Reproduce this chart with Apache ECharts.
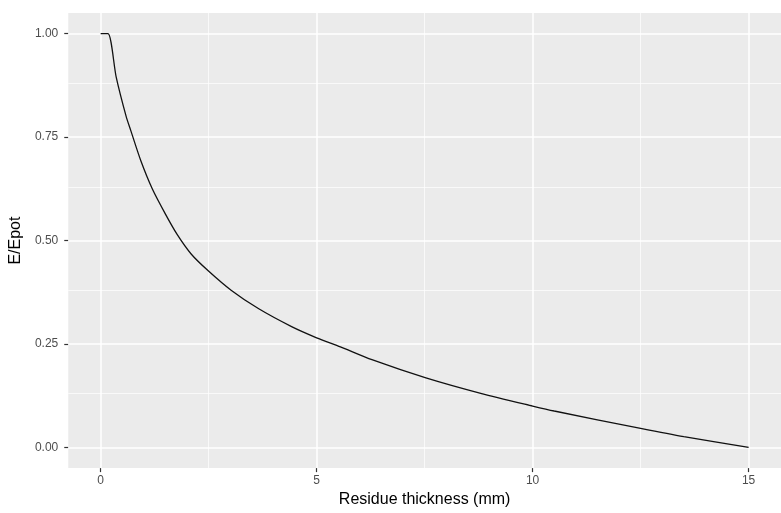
<!DOCTYPE html>
<html>
<head>
<meta charset="utf-8">
<script src="https://cdn.jsdelivr.net/npm/echarts@6/dist/echarts.min.js"></script>
<style>
  html, body { margin: 0; padding: 0; background: #fff; }
  #chart { width: 781px; height: 513px; }
</style>
</head>
<body>
<div id="chart"></div>
<script>
// curve
const thickness = [0, 0.17, 0.36, 0.59, 0.70, 0.93, 1.20, 1.50, 1.77, 2.10, 2.49, 3.02, 3.66, 4.42, 5.0, 5.55, 6.28, 7.53, 8.82, 10.0, 10.5, 12.5, 13.5, 15.0]
const ratio = [1, 1, 0.895, 0.80, 0.765, 0.693, 0.624, 0.564, 0.515, 0.467, 0.427, 0.38, 0.335, 0.292, 0.265, 0.243, 0.212, 0.168, 0.130, 0.100, 0.088, 0.046, 0.026, 0.0]

// ticks / grid lines
const xTicks = [0, 5, 10, 15]
const xMinor = [2.5, 7.5, 12.5]
const yTicks = [0, 0.25, 0.5, 0.75, 1]
const yMinor = [0.125, 0.375, 0.625, 0.875]

const chart = echarts.init(document.getElementById('chart'))

const gridLines = []
xMinor.forEach(v => gridLines.push({ xAxis: v, lineStyle: { width: 0.7 } }))
yMinor.forEach(v => gridLines.push({ yAxis: v, lineStyle: { width: 0.7 } }))
xTicks.forEach(v => gridLines.push({ xAxis: v, lineStyle: { width: 1.5 } }))
yTicks.forEach(v => gridLines.push({ yAxis: v, lineStyle: { width: 1.5 } }))

chart.setOption({
  animation: false,
  textStyle: { fontFamily: 'Liberation Sans, Arial, sans-serif' },
  grid: {
    left: 67,
    top: 13,
    width: 725,
    height: 456,
    show: true,
    backgroundColor: '#EBEBEB',
    borderWidth: 0
  },
  xAxis: {
    type: 'value',
    min: -0.75,
    max: 15.75,
    splitLine: { show: false },
    axisLine: { show: false, onZero: false },
    axisTick: {
      show: true,
      customValues: xTicks,
      length: 4,
      lineStyle: { color: '#333333', width: 1.2 }
    },
    axisLabel: {
      customValues: xTicks,
      color: '#4D4D4D',
      fontSize: 12,
      margin: 7
    },
    name: 'Residue thickness (mm)',
    nameLocation: 'middle',
    nameGap: 23,
    nameTextStyle: { color: '#000', fontSize: 16 }
  },
  yAxis: {
    type: 'value',
    min: -0.05,
    max: 1.05,
    splitLine: { show: false },
    axisLine: { show: false, onZero: false },
    axisTick: {
      show: true,
      customValues: yTicks,
      length: 4,
      lineStyle: { color: '#333333', width: 1.2 }
    },
    axisLabel: {
      customValues: yTicks,
      formatter: v => v.toFixed(2),
      color: '#4D4D4D',
      fontSize: 12,
      margin: 10
    },
    name: 'E/Epot',
    nameLocation: 'middle',
    nameGap: 43,
    nameRotate: 90,
    nameTextStyle: { color: '#000', fontSize: 16 }
  },
  series: [
    {
      type: 'line',
      z: 1,
      data: [],
      silent: true,
      markLine: {
        z: 1,
        silent: true,
        symbol: 'none',
        label: { show: false },
        lineStyle: { color: '#FFFFFF', type: 'solid' },
        data: gridLines
      }
    },
    {
      name: 'E/Epot',
      type: 'line',
      z: 3,
      data: thickness.map((t, i) => [t, ratio[i]]),
      showSymbol: false,
      smooth: 0.25,
      lineStyle: { color: '#111111', width: 1.3 }
    }
  ]
})
</script>
</body>
</html>
